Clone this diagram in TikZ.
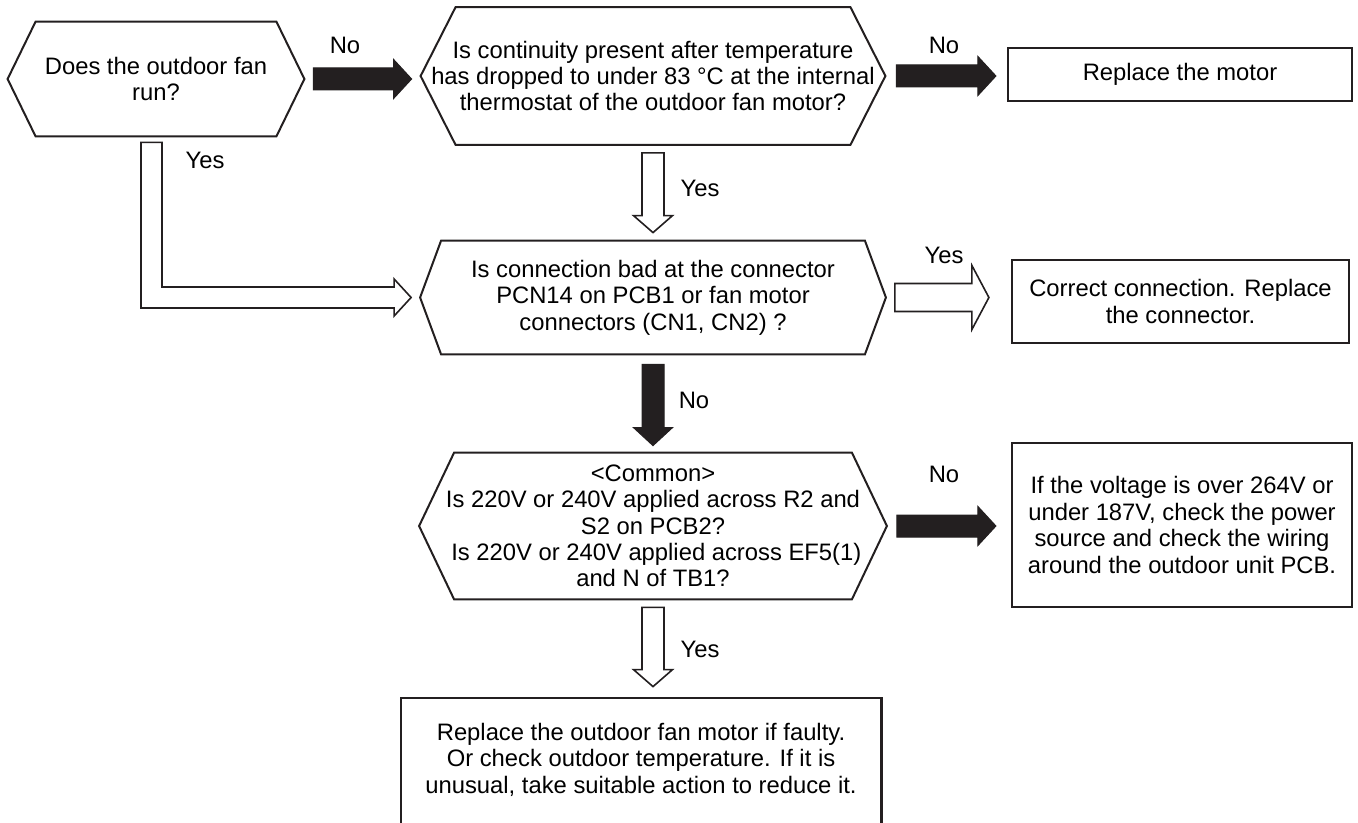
\documentclass[tikz,border=0pt]{standalone}
\usepackage{fontspec}
\setmainfont{Liberation Sans}
\usetikzlibrary{calc}

\definecolor{ink}{RGB}{35,31,32}

\tikzset{
  hexq/.style={rectangle, inner sep=0pt, align=center},
  hexline/.style={draw=ink, line width=1pt, line join=miter},
  answer/.style={draw=ink, line width=1.1pt, inner sep=0pt, align=center},
  boxline/.style={draw=ink, line width=1.1pt},
  yesno/.style={inner sep=0pt},
  solidarrow/.style={fill=ink, draw=ink, line width=0.5pt},
  hollowarrow/.style={fill=white, draw=ink, line width=0.8pt},
  fatshaft/.store in=\fatshaft, fathead/.store in=\fathead, fattip/.store in=\fattip,
  fatshaft=5.5pt, fathead=9.75pt, fattip=9pt,
}

% block arrow from #2 to #3, style #1
\newcommand\fatarrow[3]{%
  \path[#1] let \p1=(#2), \p2=(#3),
      \n1={veclen(\x2-\x1,\y2-\y1)}, \n2={atan2(\y2-\y1,\x2-\x1)} in
    [shift={(\p1)}, rotate=\n2]
    (0pt,\fatshaft) -- (\n1*1pt-\fattip,\fatshaft) -- (\n1*1pt-\fattip,\fathead)
    -- (\n1*1pt,0pt) -- (\n1*1pt-\fattip,-\fathead) -- (\n1*1pt-\fattip,-\fatshaft)
    -- (0pt,-\fatshaft) -- cycle;
}

\begin{document}
\begin{tikzpicture}[x=0.5pt, y=-0.5pt, font=\fontsize{11.9}{13.2}\selectfont]
\useasboundingbox (0,0) rectangle (1358,823);

% questions
\node[hexq, minimum width=148pt, minimum height=57pt] (q1) at (156,79) {Does the outdoor fan\\run?};
\node[hexq, minimum width=232pt, minimum height=68.5pt] (q2) at (653,76) {Is continuity present after temperature\\has dropped to under 83 °C at the internal\\thermostat of the outdoor fan motor?};
\node[hexq, minimum width=232.5pt, minimum height=56.5pt] (q3) at (653,297.5) {Is connection bad at the connector\\PCN14 on PCB1 or fan motor\\connectors (CN1, CN2) ?};
\node[hexq, minimum width=233.5pt, minimum height=73pt] (q4) at (653,526) {<Common>\\Is 220V or 240V applied across R2 and\\S2 on PCB2?\\\hspace*{3.3pt}Is 220V or 240V applied across EF5(1)\\and N of TB1?};

\foreach \q/\d in {q1/14pt, q2/17.5pt, q3/10.5pt, q4/17.5pt}
  \draw[hexline] (\q.west) -- ([xshift=\d]\q.north west) -- ([xshift=-\d]\q.north east)
    -- (\q.east) -- ([xshift=-\d]\q.south east) -- ([xshift=\d]\q.south west) -- cycle;

% answers
\node[answer, minimum width=172pt, minimum height=26.5pt] (rmotor) at (1180,74.5) {Replace the motor};
\node[answer, minimum width=168.5pt, minimum height=41.5pt] (rconn) at (1180.5,301.5) {Correct connection. Replace\\the connector.};
\node[answer, minimum width=170pt, minimum height=82pt] (rvolt) at (1182,525) {If the voltage is over 264V or\\under 187V, check the power\\source and check the wiring\\around the outdoor unit PCB.};
\node[hexq, minimum width=240pt, minimum height=61.5pt] (rfinal) at (641,759.5) {Replace the outdoor fan motor if faulty.\\Or check outdoor temperature. If it is\\unusual, take suitable action to reduce it.};
\draw[boxline] (rfinal.south west) ++(0,16) |- (rfinal.north east) -- ++(0,140);

% arrows
\fatarrow{solidarrow}{$(q1.east)+(9,0)$}{$(q1.east -| q2.west)+(-9,0)$}
\fatarrow{solidarrow}{$(q2.east)+(11,0)$}{$(q2.east -| rmotor.west)+(-11,0)$}
\fatarrow{hollowarrow, fattip=8.5pt}{$(q2.south)+(0,8)$}{$(q3.north)+(0,-8)$}
\fatarrow{hollowarrow, fatshaft=7pt, fathead=16pt, fattip=8.5pt}{$(q3.east)+(9,0)$}{$(q3.east -| rconn.west)+(-22,0)$}
\fatarrow{solidarrow}{$(q3.south)+(0,10)$}{$(q4.north)+(0,-7)$}
\fatarrow{solidarrow}{$(q4.east)+(10,0)$}{$(q4.east -| rvolt.west)+(-15,0)$}
\fatarrow{hollowarrow, fattip=8.5pt}{$(q4.south)+(0,8)$}{$(q4.south |- rfinal.north)+(0,-11)$}

% yes branch of the first question
\coordinate (yturn) at (q1.south |- q3.west);
\draw[hollowarrow] ($(q1.south)+(-15,6)$) -- ($(yturn)+(-15,10.5)$) -- ($(q3.west)+(-26,10.5)$)
  -- ($(q3.west)+(-26,18.5)$) -- ($(q3.west)+(-9,0)$) -- ($(q3.west)+(-26,-18.5)$)
  -- ($(q3.west)+(-26,-10.5)$) -- ($(yturn)+(6,-10.5)$) -- ($(q1.south)+(6,6)$) -- cycle;

% labels
\node[yesno] (no1) at (345,45) {No};
\node[yesno] (no2) at (944,45) {No};
\node[yesno] (yes1) at (205,160) {Yes};
\node[yesno] (yes2) at (700,188) {Yes};
\node[yesno] (yes3) at (944,255) {Yes};
\node[yesno] (no3) at (694,400) {No};
\node[yesno] (no4) at (944,474) {No};
\node[yesno] (yes4) at (700,649) {Yes};
\end{tikzpicture}
\end{document}
